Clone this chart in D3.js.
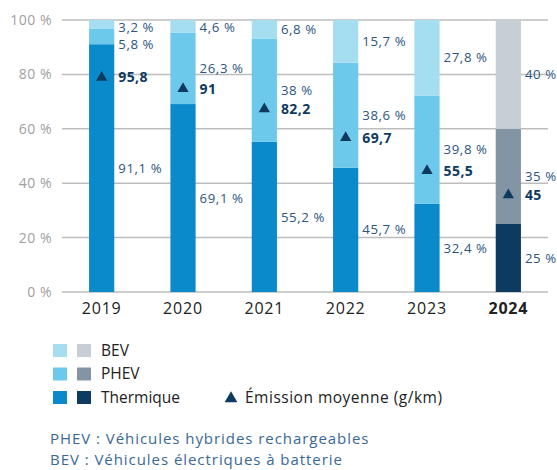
<!DOCTYPE html>
<html><head><meta charset="utf-8">
<script src="https://cdn.jsdelivr.net/npm/d3@7"></script>
<style>
body{margin:0;background:#fff;}
text{font-family:"Open Sans",sans-serif;}
</style></head>
<body><svg id="c" width="557" height="470"></svg>
<script>
const years = ["2019","2020","2021","2022","2023","2024"];
const thermique = [91.1, 69.1, 55.2, 45.7, 32.4, 25];
const phev = [5.8, 26.3, 38, 38.6, 39.8, 35];
const bev = [3.2, 4.6, 6.8, 15.7, 27.8, 40];
const thermiqueLabels = ["91,1 %","69,1 %","55,2 %","45,7 %","32,4 %","25 %"];
const phevLabels = ["5,8 %","26,3 %","38 %","38,6 %","39,8 %","35 %"];
const bevLabels = ["3,2 %","4,6 %","6,8 %","15,7 %","27,8 %","40 %"];
const emission = [95.8, 91, 82.2, 69.7, 55.5, 45];
const emissionLabels = ["95,8","91","82,2","69,7","55,5","45"];
const yTicks = [0,20,40,60,80,100];
const highlightYear = "2024";

const colorsNormal = {thermique:"#0b8acb", phev:"#6cc9eb", bev:"#a5ddf1"};
const colorsHi = {thermique:"#0d3a61", phev:"#8394a5", bev:"#c7ced6"};
const labelColor = "#2b557f";
const darkBlue = "#0f3a60";

const svg = d3.select("#c");
const x = d3.scaleBand().domain(years).range([61,549]).paddingInner(0.69).paddingOuter(0.345);
const y = d3.scaleLinear().domain([0,100]).range([292,20]);
// secondary (hidden) scale for the emission markers
const yEm = d3.scaleLinear().domain([3,120.7]).range([292,20]);

// gridlines
svg.append("g").selectAll("line").data(yTicks).join("line")
  .attr("x1",62).attr("x2",548)
  .attr("y1",d=>y(d)).attr("y2",d=>y(d))
  .attr("stroke","#bdbdbd").attr("stroke-width",1.5);

// y axis labels
const yAxis = d3.axisLeft(y).tickValues(yTicks).tickFormat(d=>d+" %").tickSize(0).tickPadding(0);
const ya = svg.append("g").attr("transform","translate(52,0)").call(yAxis);
ya.select(".domain").remove();
ya.selectAll("text").attr("font-size",14).attr("letter-spacing",0.5).attr("fill","#a0a0a0").attr("font-family","'Open Sans',sans-serif");

// x axis labels
const xAxis = d3.axisBottom(x).tickSize(0).tickPadding(0);
const xa = svg.append("g").attr("transform","translate(0,300)").call(xAxis);
xa.select(".domain").remove();
xa.selectAll("text").attr("font-size",16).attr("letter-spacing",0.8).attr("fill","#222").attr("dy","0.85em")
  .attr("font-family","'Open Sans',sans-serif")
  .attr("font-weight",d=>d===highlightYear?"bold":"normal");

// stacked data
const rows = years.map((yr,i)=>({year:yr, thermique:thermique[i], phev:phev[i], bev:bev[i]}));
const keys = ["thermique","phev","bev"];
const stack = d3.stack().keys(keys)(rows);
stack.forEach(layer=>{
  svg.append("g").selectAll("rect").data(layer).join("rect")
    .attr("x",d=>x(d.data.year))
    .attr("width",x.bandwidth())
    .attr("y",d=>y(Math.min(d[1],100)))
    .attr("height",d=>y(d[0])-y(Math.min(d[1],100)))
    .attr("fill",d=>(d.data.year===highlightYear?colorsHi:colorsNormal)[layer.key]);
});

// triangles
const tri = d3.symbol().type(d3.symbolTriangle).size(55);
svg.append("g").selectAll("path").data(years).join("path")
  .attr("d",tri)
  .attr("transform",(d,i)=>`translate(${x(d)+x.bandwidth()/2},${yEm(emission[i])})`)
  .attr("fill",darkBlue);

// labels with collision avoidance
const labelsLayer = svg.append("g");
years.forEach((yr,i)=>{
  const s = stack.map(l=>l[i]);
  let items = [
    {t:thermiqueLabels[i], y:y((s[0][0]+s[0][1])/2), bold:false},
    {t:phevLabels[i], y:y((s[1][0]+s[1][1])/2), bold:false},
    {t:bevLabels[i], y:y((s[2][0]+Math.min(s[2][1],100))/2), bold:false},
    {t:emissionLabels[i], y:yEm(emission[i]), bold:true}
  ];
  items.sort((a,b)=>a.y-b.y);
  if(items[0].y<27) items[0].y=27;
  for(let k=1;k<items.length;k++){
    if(items[k].y-items[k-1].y<17) items[k].y=items[k-1].y+17;
  }
  const lx = x(yr)+x.bandwidth()+4;
  items.forEach(it=>{
    labelsLayer.append("text").attr("x",lx).attr("y",it.y).attr("dy","0.35em")
      .attr("font-size",it.bold?14:13.2).attr("letter-spacing",it.bold?0.4:0.6)
      .attr("font-weight",it.bold?"bold":"normal")
      .attr("fill",it.bold?darkBlue:labelColor).text(it.t);
  });
});

// legend
const legendRows = [
  {name:"BEV", key:"bev"},
  {name:"PHEV", key:"phev"},
  {name:"Thermique", key:"thermique"}
];
const lg = svg.append("g");
legendRows.forEach((r,i)=>{
  const yy = 344 + i*23.5;
  lg.append("rect").attr("x",53).attr("y",yy).attr("width",14).attr("height",13).attr("fill",colorsNormal[r.key]);
  lg.append("rect").attr("x",77).attr("y",yy).attr("width",14).attr("height",13).attr("fill",colorsHi[r.key]);
  lg.append("text").attr("x",101).attr("y",yy+6.5).attr("dy","0.35em").attr("font-size",15.5).attr("fill","#222").text(r.name);
});
lg.append("path").attr("d",d3.symbol().type(d3.symbolTriangle).size(70))
  .attr("transform","translate(231,398.5)").attr("fill",darkBlue);
lg.append("text").attr("x",245).attr("y",397.5).attr("dy","0.35em").attr("font-size",15.5).attr("letter-spacing",0.5).attr("fill","#222")
  .text("Émission moyenne (g/km)");

// footnotes
const notes = ["PHEV : Véhicules hybrides rechargeables","BEV : Véhicules électriques à batterie"];
svg.append("g").selectAll("text").data(notes).join("text")
  .attr("x",50).attr("y",(d,i)=>439+i*20.5).attr("dy","0.35em")
  .attr("font-size",15).attr("letter-spacing",0.95).attr("fill","#3a6895").text(d=>d);
</script></body></html>
